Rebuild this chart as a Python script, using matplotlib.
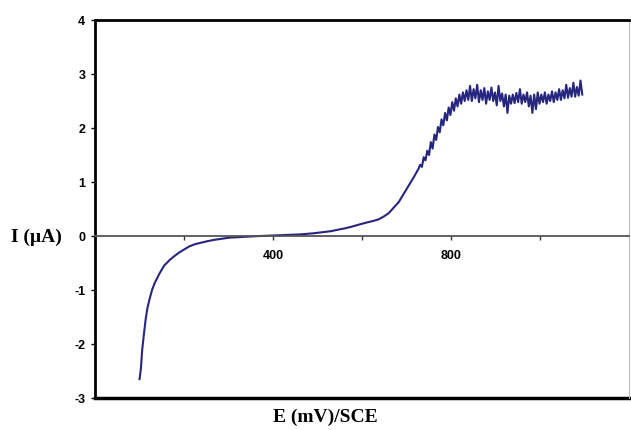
import matplotlib.pyplot as plt

# smooth part of the voltammogram (mV vs SCE, uA)
e_smooth = [100, 103, 106, 110, 114, 118, 123, 128, 134, 140, 145, 155, 168, 180,
            190, 200, 212, 225, 235, 250, 268, 285, 302, 325, 346, 370, 400, 430,
            460, 490, 510, 530, 547, 560, 575, 592, 610, 625, 637, 648, 659, 670,
            682, 693, 704, 715, 726]
i_smooth = [-2.65, -2.45, -2.10, -1.80, -1.52, -1.32, -1.15, -1.00, -0.87, -0.77,
            -0.69, -0.55, -0.44, -0.36, -0.30, -0.25, -0.19, -0.15, -0.13, -0.10,
            -0.07, -0.05, -0.03, -0.02, -0.01, 0.00, 0.01, 0.02, 0.03, 0.05, 0.07,
            0.09, 0.12, 0.14, 0.17, 0.21, 0.25, 0.28, 0.31, 0.36, 0.42, 0.52, 0.63,
            0.78, 0.93, 1.08, 1.24]

# noisy rise and plateau
e_noisy = [730, 734, 738, 742, 746, 750, 754, 758, 762, 766, 770, 774, 778, 782,
           786, 790, 794, 798, 802, 806, 810, 814, 818, 822, 826, 830,
           834, 838, 842, 846, 850, 854, 858, 862, 866, 870, 874, 878, 882, 886,
           890, 894, 898, 902, 906, 910, 914, 918, 922, 926, 930, 934, 938, 942,
           946, 950, 954, 958, 962, 966, 970, 974, 978, 982, 986, 990, 994, 998,
           1002, 1006, 1010, 1014, 1018, 1022, 1026, 1030, 1034, 1038, 1042, 1046,
           1050, 1054, 1058, 1062, 1066, 1070, 1074, 1078, 1082, 1086, 1090, 1094]
i_noisy = [1.32, 1.28, 1.46, 1.40, 1.58, 1.50, 1.74, 1.62, 1.88, 1.78, 2.02, 1.92,
           2.16, 2.05, 2.28, 2.14, 2.38, 2.24, 2.48, 2.32, 2.55, 2.40, 2.62, 2.45,
           2.66, 2.50,
           2.70, 2.52, 2.78, 2.50, 2.72, 2.55, 2.80, 2.48, 2.70, 2.52, 2.74, 2.45,
           2.68, 2.52, 2.75, 2.50, 2.66, 2.42, 2.78, 2.50, 2.64, 2.40, 2.62, 2.28,
           2.60, 2.45, 2.62, 2.46, 2.65, 2.48, 2.72, 2.45, 2.62, 2.48, 2.66, 2.40,
           2.60, 2.28, 2.62, 2.35, 2.66, 2.45, 2.62, 2.48, 2.66, 2.45, 2.62, 2.50,
           2.68, 2.48, 2.66, 2.52, 2.72, 2.52, 2.70, 2.55, 2.80, 2.56, 2.74, 2.58,
           2.84, 2.58, 2.76, 2.60, 2.88, 2.62]

x_ticks = [200, 400, 600, 800, 1000]
x_labels = ['', '400', '', '800', '']
y_ticks = [-3, -2, -1, 0, 1, 2, 3, 4]


def main():
    fig = plt.figure(figsize=(6.31, 4.30), dpi=100)
    ax = fig.add_axes([0.1506, 0.0744, 0.847, 0.879])

    ax.plot(e_smooth + e_noisy, i_smooth + i_noisy, color='#26267f', lw=1.5)

    ax.set_xlim(0, 1200)
    ax.set_ylim(-3, 4)

    ax.spines['bottom'].set_position(('data', 0))
    ax.spines['bottom'].set_color('#555555')
    ax.spines['bottom'].set_linewidth(1.3)
    ax.spines['left'].set_linewidth(2)
    ax.spines['top'].set_linewidth(2)
    ax.spines['right'].set_color('#bbbbbb')
    ax.spines['right'].set_linewidth(0.8)
    ax.axhline(-3, color='black', lw=2.5, clip_on=False)

    ax.set_xticks(x_ticks)
    ax.set_xticklabels(x_labels, fontfamily='Liberation Sans', fontweight='bold', fontsize=9)
    ax.set_yticks(y_ticks)
    ax.set_yticklabels([str(v) for v in y_ticks], fontfamily='Liberation Sans',
                       fontweight='bold', fontsize=9)
    ax.tick_params(axis='x', length=3, width=1, pad=7, color='#333333')
    ax.tick_params(axis='y', length=3, width=1, pad=4)

    fig.text(0.018, 1 - 237 / 430, 'I (\u00b5A)', fontfamily='Liberation Serif',
             fontweight='bold', fontsize=14, va='center', ha='left')
    fig.text(0.516, 0.03, 'E (mV)/SCE', fontfamily='Liberation Serif',
             fontweight='bold', fontsize=14, va='center', ha='center')

    fig.savefig('out.png', dpi=100)


if __name__ == '__main__':
    main()
